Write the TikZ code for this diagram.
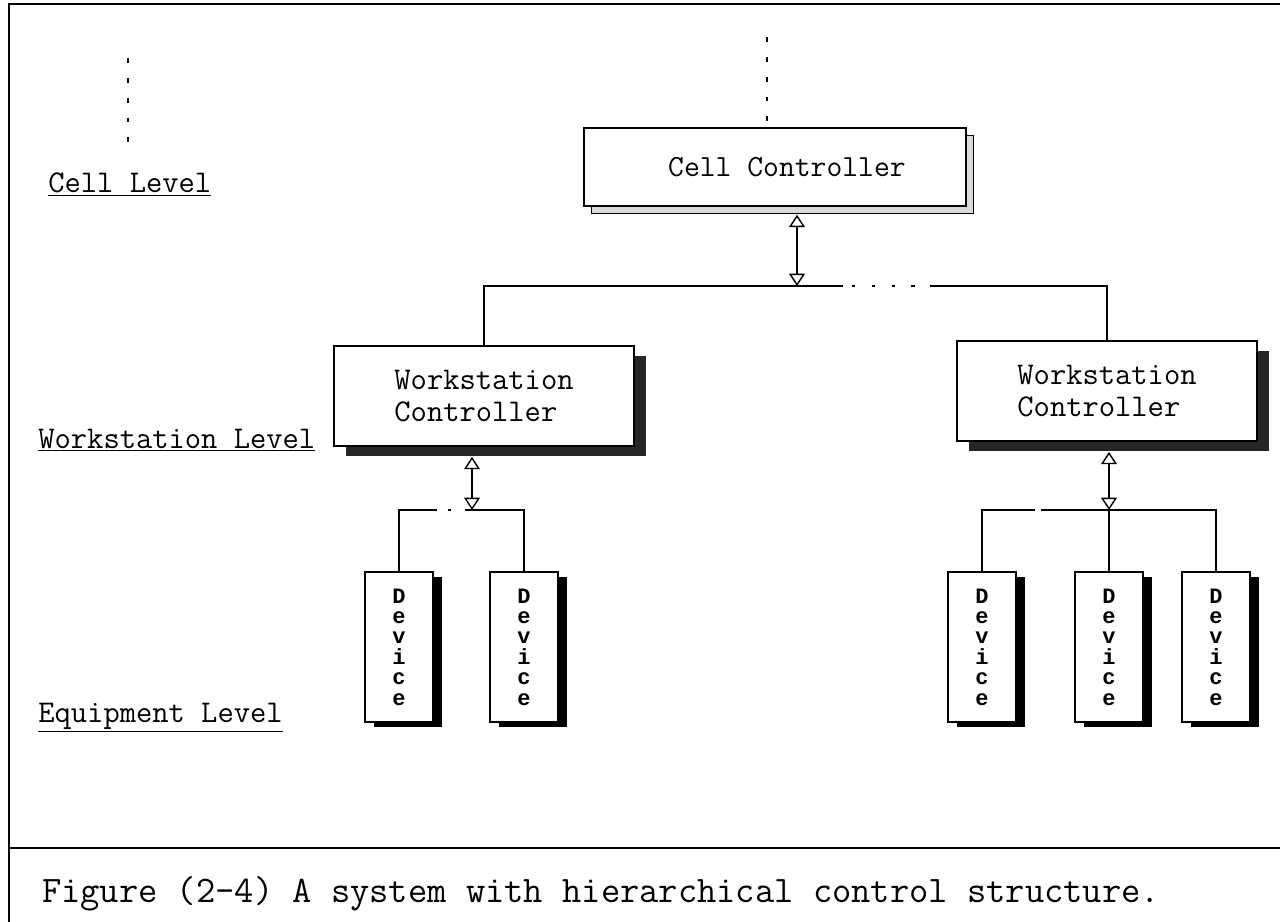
\documentclass[tikz,border=0pt]{standalone}
\usepackage{fontspec}
\newfontfamily\devfont{Liberation Mono}
\usetikzlibrary{arrows.meta,shadows}
\begin{document}
\begin{tikzpicture}[x=0.02cm, y=-0.02cm,
    box/.style={rectangle, draw, line width=1pt, fill=white, inner sep=0pt},
    cellbox/.style={box, minimum width=7.64cm, minimum height=1.56cm, font=\ttfamily\fontsize{17.5}{21}\selectfont,
        drop shadow={shadow xshift=4.5pt, shadow yshift=-4.5pt, fill=gray!30, draw=black, line width=0.6pt, opacity=1}},
    wsbox/.style={box, minimum width=6cm, minimum height=2cm, align=left, font=\ttfamily\fontsize{18}{18.7}\selectfont,
        drop shadow={shadow xshift=6.8pt, shadow yshift=-5.7pt, fill=black!85, opacity=1}},
    devbox/.style={box, minimum width=1.36cm, minimum height=3cm, align=center, font=\devfont\bfseries\fontsize{12.5}{11.6}\selectfont,
        drop shadow={shadow xshift=5.1pt, shadow yshift=-3.1pt, fill=black, opacity=1}},
    level/.style={anchor=base west, inner sep=0pt, font=\ttfamily\fontsize{18}{22}\selectfont},
    link/.style={line width=0.8pt, {Triangle[open,length=7pt,width=9pt]}-{Triangle[open,length=7pt,width=9pt]}},
    bus/.style={line width=0.8pt},
    gapline/.style={line width=0.8pt, dash pattern=on 2pt off 9.3pt},
    upline/.style={line width=0.8pt, dash pattern=on 2.8pt off 8.5pt}
]
    \useasboundingbox (0,0) rectangle (1280,922);
    \draw[line width=1.1pt] (9,922) -- (9,4) -- (1280,4);
    \draw[line width=1.1pt] (9,848) -- (1280,848);

    \node[cellbox] (cc) at (775,167) {\hspace*{13.6pt}Cell Controller};
    \node[wsbox] (lws) at (484,396) {Workstation\\Controller};
    \node[wsbox] (rws) at (1107,391) {Workstation\\Controller};
    \node[devbox] (ld1) at (399,647) {D\\e\\v\\i\\c\\e};
    \node[devbox] (ld2) at (524,647) {D\\e\\v\\i\\c\\e};
    \node[devbox] (rd1) at (982,647) {D\\e\\v\\i\\c\\e};
    \node[devbox] (rd2) at (1109,647) {D\\e\\v\\i\\c\\e};
    \node[devbox] (rd3) at (1216,647) {D\\e\\v\\i\\c\\e};

    \node[level] (cl) at (48,193) {\underline{Cell Level}};
    \node[level] (wl) at (38,448) {\underline{Workstation Level}};
    \node[level] (el) at (38,722) {\underline{Equipment Level}};
    \node[anchor=base, inner sep=0pt, font=\ttfamily\fontsize{21.3}{25}\selectfont] (cap) at (601,902) {Figure (2-4) A system with hierarchical control structure.};

    \coordinate (cltop) at (128,58);
    \coordinate (clbot) at (128,143);
    \draw[upline] (cltop) -- (clbot);
    \coordinate (cctop) at (767,37);
    \draw[upline] (cctop) -- (cctop |- cc.north);

    \coordinate (ccbus) at (797,286);
    \coordinate (dotsL) at (843,286);
    \coordinate (dotsR) at (930,286);
    \draw[link, shorten <=4.5pt] (cc.south -| ccbus) -- (ccbus);
    \draw[bus] (lws.north) |- (dotsL);
    \draw[gapline, shorten <=5pt] (dotsL) -- (dotsR);
    \draw[bus] (dotsR) -| (rws.north);

    \coordinate (lbus) at (472,510);
    \coordinate (lgapL) at (437,510);
    \coordinate (lgapR) at (465,510);
    \draw[link, shorten <=5.7pt] (lws.south -| lbus) -- (lbus);
    \draw[bus] (ld1.north) |- (lgapL);
    \draw[gapline, shorten <=6pt, shorten >=6pt] (lgapL) -- (lgapR);
    \draw[bus] (lgapR) -| (ld2.north);

    \coordinate (rbus) at (1109,510);
    \coordinate (rgapL) at (1035,510);
    \coordinate (rgapR) at (1041,510);
    \draw[link, shorten <=5.7pt] (rws.south -| rbus) -- (rbus);
    \draw[bus] (rd1.north) |- (rgapL);
    \draw[bus] (rgapR) -| (rd3.north);
    \draw[bus] (rd2.north) -- (rd2.north |- rgapL);
\end{tikzpicture}
\end{document}
